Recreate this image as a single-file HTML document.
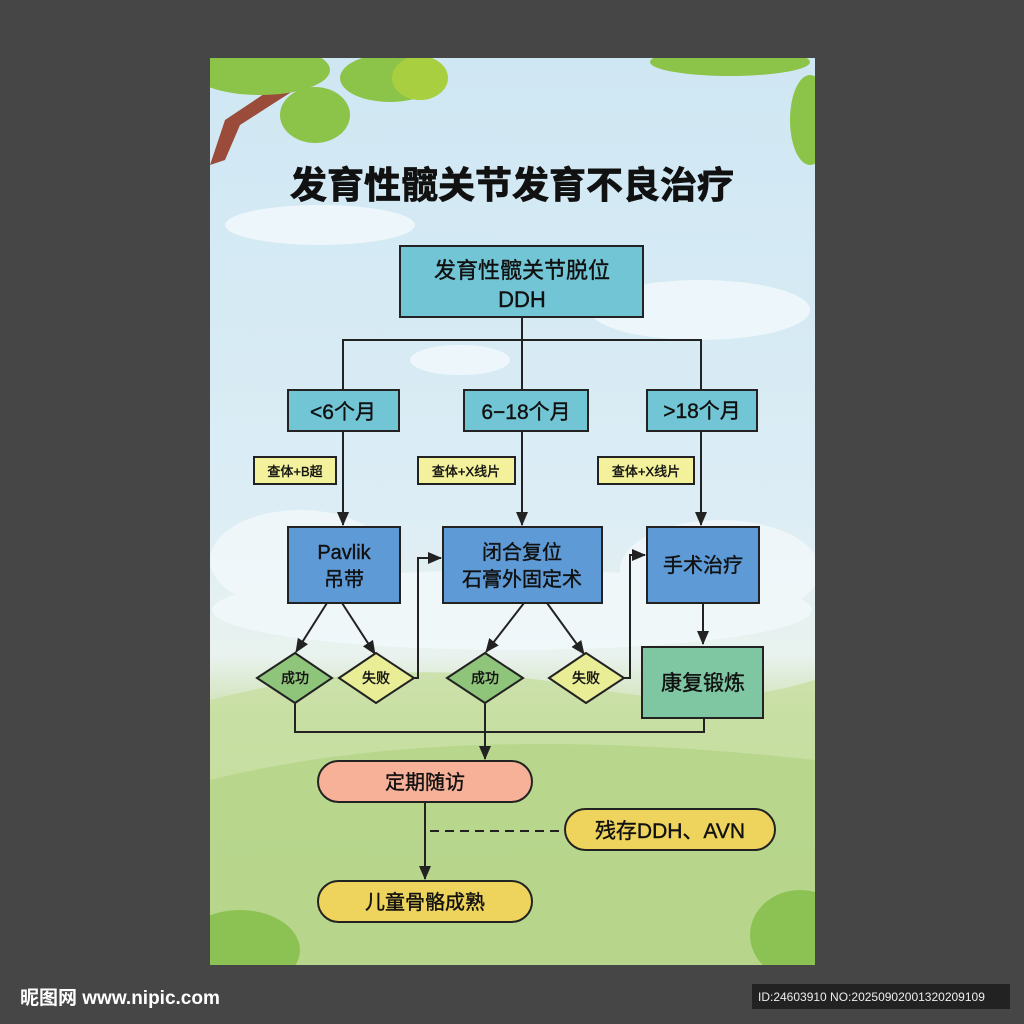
<!DOCTYPE html>
<html><head><meta charset="utf-8"><style>
html,body{margin:0;padding:0;width:1024px;height:1024px;background:#464646;overflow:hidden}
svg{display:block}
text{font-family:"Liberation Sans","Noto Sans CJK SC",sans-serif}
</style></head><body>
<svg width="1024" height="1024" viewBox="0 0 1024 1024">
<defs>
<linearGradient id="sky" x1="0" y1="0" x2="0" y2="1">
<stop offset="0" stop-color="#cfe7f3"/><stop offset="0.5" stop-color="#dcedf5"/><stop offset="0.66" stop-color="#e9f2ee"/><stop offset="0.72" stop-color="#cfe2b4"/><stop offset="1" stop-color="#a9cf7a"/>
</linearGradient>
<clipPath id="pc"><rect x="210" y="58" width="605" height="907"/></clipPath>
<marker id="arL" markerWidth="14" markerHeight="12" refX="13" refY="6" orient="auto" markerUnits="userSpaceOnUse"><path d="M0,0 L14,6 L0,12 Z" fill="#222"/></marker>
</defs>
<rect x="0" y="0" width="1024" height="1024" fill="#464646"/>
<g clip-path="url(#pc)">
<rect x="210" y="58" width="605" height="907" fill="url(#sky)"/>
<g fill="#f3f9fc" opacity="0.8">
<ellipse cx="320" cy="225" rx="95" ry="20"/><ellipse cx="700" cy="310" rx="110" ry="30"/>
<ellipse cx="460" cy="360" rx="50" ry="15"/>
<ellipse cx="300" cy="560" rx="90" ry="50"/><ellipse cx="720" cy="570" rx="100" ry="50"/>
<ellipse cx="512" cy="610" rx="300" ry="40"/>
</g>
<path d="M210,700 Q400,650 600,690 Q720,710 815,680 L815,965 L210,965 Z" fill="#c7dea0" opacity="0.8"/>
<path d="M210,780 Q450,720 815,760 L815,965 L210,965 Z" fill="#b4d488" opacity="0.8"/>
<ellipse cx="240" cy="950" rx="60" ry="40" fill="#8cc253"/>
<ellipse cx="800" cy="935" rx="50" ry="45" fill="#8cc253"/>
<path d="M210,165 L225,120 L300,70 L310,80 L240,125 L225,160 Z" fill="#9b4b3a"/>
<g fill="#8cc349">
<ellipse cx="260" cy="70" rx="70" ry="25"/><ellipse cx="315" cy="115" rx="35" ry="28"/><ellipse cx="390" cy="78" rx="50" ry="24"/><ellipse cx="420" cy="78" rx="28" ry="22" fill="#a8cf3f"/>
<ellipse cx="730" cy="62" rx="80" ry="14"/><ellipse cx="810" cy="120" rx="20" ry="45"/>
</g>
</g>
<text x="512" y="198" font-size="37" font-weight="bold" text-anchor="middle" fill="#111" stroke="#111" stroke-width="0.8">发育性髋关节发育不良治疗</text>
<g stroke="#222" stroke-width="2" fill="none">
<line x1="522" y1="317" x2="522" y2="390"/>
<polyline points="343,390 343,340 701,340 701,390"/>
<line x1="343" y1="431" x2="343" y2="525" marker-end="url(#arL)"/>
<line x1="522" y1="431" x2="522" y2="525" marker-end="url(#arL)"/>
<line x1="701" y1="431" x2="701" y2="525" marker-end="url(#arL)"/>
<line x1="327" y1="603" x2="296" y2="652" marker-end="url(#arL)"/>
<line x1="342" y1="603" x2="375" y2="654" marker-end="url(#arL)"/>
<line x1="524" y1="603" x2="486" y2="652" marker-end="url(#arL)"/>
<line x1="547" y1="603" x2="584" y2="654" marker-end="url(#arL)"/>
<polyline points="414,678 418,678 418,558 441,558" marker-end="url(#arL)"/>
<polyline points="624,678 630,678 630,555 645,555" marker-end="url(#arL)"/>
<line x1="703" y1="603" x2="703" y2="644" marker-end="url(#arL)"/>
<polyline points="295,703 295,732 704,732 704,718"/>
<line x1="485" y1="703" x2="485" y2="759" marker-end="url(#arL)"/>
<line x1="425" y1="802" x2="425" y2="879" marker-end="url(#arL)"/>
<line x1="430" y1="831" x2="564" y2="831" stroke-dasharray="9,6"/>
</g>
<g stroke="#222" stroke-width="2">
<rect x="400" y="246" width="243" height="71" fill="#72c5d4"/>
<rect x="288" y="390" width="111" height="41" fill="#72c5d4"/>
<rect x="464" y="390" width="124" height="41" fill="#72c5d4"/>
<rect x="647" y="390" width="110" height="41" fill="#72c5d4"/>
<rect x="254" y="457" width="82" height="27" fill="#f3f19b"/>
<rect x="418" y="457" width="97" height="27" fill="#f3f19b"/>
<rect x="598" y="457" width="96" height="27" fill="#f3f19b"/>
<rect x="288" y="527" width="112" height="76" fill="#5e9ad6"/>
<rect x="443" y="527" width="159" height="76" fill="#5e9ad6"/>
<rect x="647" y="527" width="112" height="76" fill="#5e9ad6"/>
<polygon points="257,678 295,653 332,678 295,703" fill="#8fc47b"/>
<polygon points="339,678 376,653 414,678 376,703" fill="#e8ed96"/>
<polygon points="447,678 485,653 523,678 485,703" fill="#8fc47b"/>
<polygon points="549,678 586,653 624,678 586,703" fill="#e8ed96"/>
<rect x="642" y="647" width="121" height="71" fill="#7fc7a2"/>
<rect x="318" y="761" width="214" height="41" rx="20.5" fill="#f6b198"/>
<rect x="318" y="881" width="214" height="41" rx="20.5" fill="#eed45c"/>
<rect x="565" y="809" width="210" height="41" rx="20.5" fill="#eed45c"/>
</g>
<g fill="#111" text-anchor="middle" stroke="#111" stroke-width="0.4">
<text x="522" y="278" font-size="22">发育性髋关节脱位</text>
<text x="522" y="307" font-size="22">DDH</text>
<text x="343" y="419" font-size="21">&lt;6个月</text>
<text x="526" y="419" font-size="21">6−18个月</text>
<text x="702" y="418" font-size="21">&gt;18个月</text>
<text x="295" y="476" font-size="13">查体+B超</text>
<text x="466" y="476" font-size="13">查体+X线片</text>
<text x="646" y="476" font-size="13">查体+X线片</text>
<text x="344" y="559" font-size="20">Pavlik</text>
<text x="344" y="586" font-size="20">吊带</text>
<text x="522" y="559" font-size="20">闭合复位</text>
<text x="522" y="586" font-size="20">石膏外固定术</text>
<text x="703" y="572" font-size="20">手术治疗</text>
<text x="295" y="683" font-size="14">成功</text>
<text x="376" y="683" font-size="14">失败</text>
<text x="485" y="683" font-size="14">成功</text>
<text x="586" y="683" font-size="14">失败</text>
<text x="703" y="690" font-size="21">康复锻炼</text>
<text x="425" y="789" font-size="20">定期随访</text>
<text x="425" y="909" font-size="20">儿童骨骼成熟</text>
<text x="670" y="838" font-size="21">残存DDH、AVN</text>
</g>
<text x="20" y="1004" font-size="19" font-weight="bold" fill="#fff">昵图网 www.nipic.com</text>
<rect x="752" y="984" width="258" height="25" fill="#222"/>
<text x="758" y="1001" font-size="12" fill="#eee">ID:24603910 NO:20250902001320209109</text>
</svg>
</body></html>
